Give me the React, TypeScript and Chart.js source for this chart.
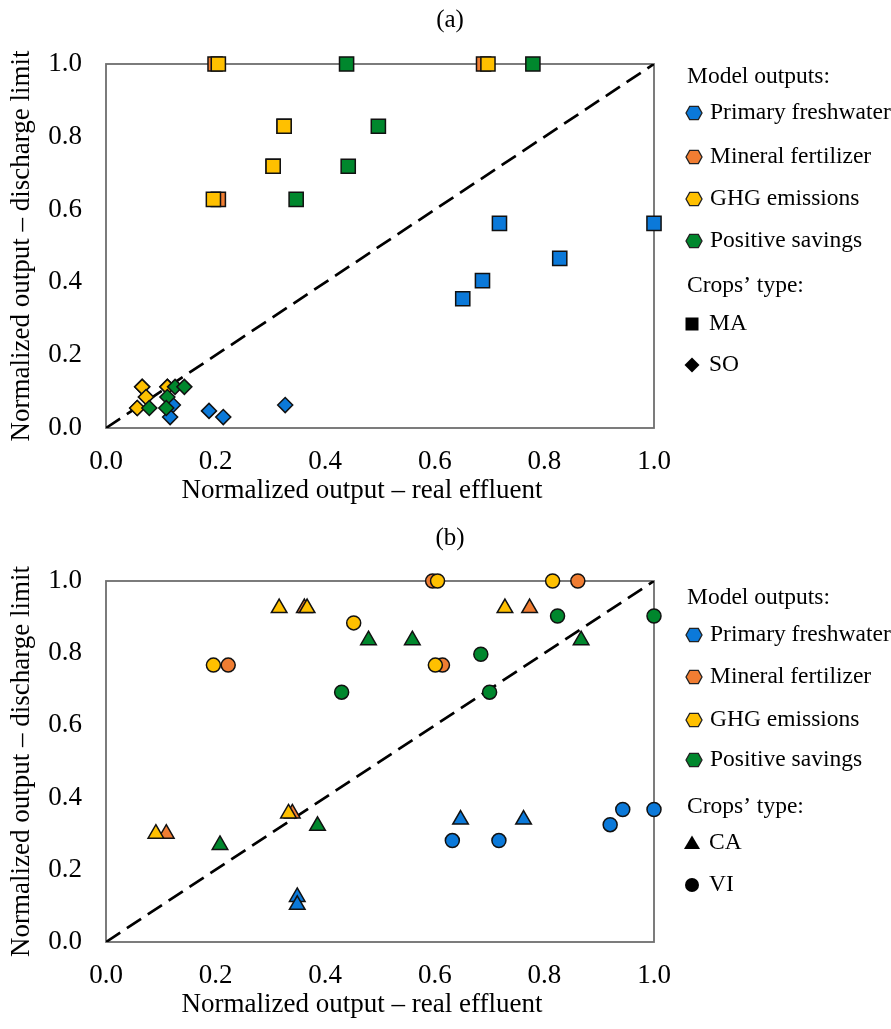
import React, { useEffect, useRef } from "react";
import { Chart, registerables } from "chart.js";

Chart.register(...registerables);

// ---------- text ----------
const X_TITLE = "Normalized output – real effluent";
const Y_TITLE = "Normalized output – discharge limit";
const TICK_LABELS = ["0.0", "0.2", "0.4", "0.6", "0.8", "1.0"];
const OUTPUT_NAMES = ["Primary freshwater", "Mineral fertilizer", "GHG emissions", "Positive savings"];
const OUTPUT_COLORS = ["#0B79D9", "#F07D32", "#FFC000", "#00872D"];
const LEGEND_HEAD_OUTPUTS = "Model outputs:";
const LEGEND_HEAD_CROPS = "Crops’ type:";

// ---------- panel (a) data : [x, y] ----------
const A_CROPS = ["MA", "SO"];
const A_MA_FRESHWATER = [[0.718, 0.562], [1.0, 0.562], [0.828, 0.466], [0.687, 0.405], [0.651, 0.355]];
const A_MA_FERTILIZER = [[0.199, 1.0], [0.689, 1.0], [0.325, 0.829], [0.305, 0.719], [0.205, 0.628]];
const A_MA_GHG = [[0.205, 1.0], [0.697, 1.0], [0.325, 0.829], [0.305, 0.719], [0.196, 0.628]];
const A_MA_SAVINGS = [[0.439, 1.0], [0.779, 1.0], [0.497, 0.829], [0.442, 0.719], [0.347, 0.628]];
const A_SO_FRESHWATER = [[0.122, 0.063], [0.117, 0.030], [0.188, 0.047], [0.214, 0.030], [0.327, 0.063]];
const A_SO_FERTILIZER = [[0.066, 0.113], [0.073, 0.085], [0.057, 0.055], [0.112, 0.113]];
const A_SO_GHG = [[0.066, 0.113], [0.073, 0.085], [0.057, 0.055], [0.112, 0.113]];
const A_SO_SAVINGS = [[0.126, 0.113], [0.143, 0.113], [0.112, 0.085], [0.079, 0.055], [0.110, 0.055]];

// ---------- panel (b) data : [x, y] ----------
const B_CROPS = ["CA", "VI"];
const B_CA_FRESHWATER = [[0.349, 0.125], [0.349, 0.103], [0.647, 0.339], [0.762, 0.339]];
const B_CA_FERTILIZER = [[0.110, 0.300], [0.340, 0.356], [0.362, 0.925], [0.773, 0.925]];
const B_CA_GHG = [[0.091, 0.300], [0.333, 0.356], [0.316, 0.925], [0.367, 0.925], [0.728, 0.925]];
const B_CA_SAVINGS = [[0.208, 0.269], [0.386, 0.322], [0.479, 0.836], [0.559, 0.836], [0.867, 0.836]];
const B_VI_FRESHWATER = [[0.632, 0.281], [0.717, 0.281], [0.920, 0.325], [0.943, 0.367], [1.0, 0.367]];
const B_VI_FERTILIZER = [[0.223, 0.767], [0.596, 1.0], [0.861, 1.0], [0.614, 0.767]];
const B_VI_GHG = [[0.196, 0.767], [0.452, 0.884], [0.605, 1.0], [0.815, 1.0], [0.601, 0.767]];
const B_VI_SAVINGS = [[0.430, 0.692], [0.824, 0.903], [1.0, 0.903], [0.684, 0.797], [0.700, 0.692]];

const DIAGONAL = [[0, 0], [1, 1]];

// ---------- styling ----------
const FONT = "'Liberation Serif', 'Times New Roman', serif";
const AXIS_FONT_SIZE = 27;
const LEGEND_FONT_SIZE = 23.5;
const TITLE_FONT_SIZE = 25;
const FRAME_COLOR = "#6e6e6e";
const W = 891;
const PLOT_LEFT = 106;
const PLOT_RIGHT = 654;

type Pt = number[];
const toXY = (arr: Pt[]) => arr.map(([x, y]) => ({ x, y }));

function markerSet(groups: Pt[][], style: string, radius: number, orderBase: number) {
  // groups ordered freshwater, fertilizer, ghg, savings
  const orderMap = [4, 3, 2, 1];
  return groups.map((g, i) => ({
    label: OUTPUT_NAMES[i],
    data: toXY(g),
    pointStyle: style,
    pointRadius: radius,
    pointHoverRadius: radius,
    backgroundColor: OUTPUT_COLORS[i],
    borderColor: "#111",
    pointBorderWidth: 1.5,
    borderWidth: 1.5,
    showLine: false,
    clip: false,
    order: orderBase + orderMap[i],
  }));
}

function drawShape(ctx: CanvasRenderingContext2D, kind: string, x: number, y: number) {
  ctx.beginPath();
  if (kind === "hex") {
    ctx.moveTo(x - 8, y);
    ctx.lineTo(x - 4.3, y - 6.6);
    ctx.lineTo(x + 4.3, y - 6.6);
    ctx.lineTo(x + 8, y);
    ctx.lineTo(x + 4.3, y + 6.6);
    ctx.lineTo(x - 4.3, y + 6.6);
    ctx.closePath();
  } else if (kind === "rect") {
    ctx.rect(x - 6.5, y - 6.5, 13, 13);
  } else if (kind === "rectRot") {
    ctx.moveTo(x - 7.5, y);
    ctx.lineTo(x, y - 7.5);
    ctx.lineTo(x + 7.5, y);
    ctx.lineTo(x, y + 7.5);
    ctx.closePath();
  } else if (kind === "triangle") {
    ctx.moveTo(x, y - 7.5);
    ctx.lineTo(x + 8, y + 6);
    ctx.lineTo(x - 8, y + 6);
    ctx.closePath();
  } else {
    ctx.arc(x, y, 7, 0, Math.PI * 2);
  }
}

type PanelCfg = {
  top: number;
  height: number;
  plotTop: number;
  plotBottom: number;
  title: string;
  titleY: number;
  legendY: number[];
  crops: string[];
  cropShapes: string[];
  datasets: any[];
};

function makeDecor(cfg: PanelCfg) {
  return {
    id: "decor",
    beforeDatasetsDraw(chart: any) {
      const { ctx, chartArea: a } = chart;
      ctx.save();
      ctx.strokeStyle = FRAME_COLOR;
      ctx.lineWidth = 1.8;
      ctx.strokeRect(a.left, a.top, a.right - a.left, a.bottom - a.top);
      ctx.restore();
    },
    afterDraw(chart: any) {
      const { ctx, chartArea: a } = chart;
      ctx.save();
      ctx.fillStyle = "#000";
      // panel title
      ctx.font = `${TITLE_FONT_SIZE}px ${FONT}`;
      ctx.textAlign = "center";
      ctx.textBaseline = "middle";
      ctx.fillText(cfg.title, 450, cfg.titleY);
      // x axis title
      ctx.font = `${AXIS_FONT_SIZE}px ${FONT}`;
      ctx.fillText(X_TITLE, 362, a.bottom + 63);
      // y axis title
      ctx.save();
      ctx.translate(22, (a.top + a.bottom) / 2);
      ctx.rotate(-Math.PI / 2);
      ctx.fillText(Y_TITLE, 0, 0);
      ctx.restore();
      // legend
      ctx.font = `${LEGEND_FONT_SIZE}px ${FONT}`;
      ctx.textAlign = "left";
      const ly = cfg.legendY;
      ctx.fillText(LEGEND_HEAD_OUTPUTS, 687, ly[0]);
      OUTPUT_NAMES.forEach((name, i) => {
        drawShape(ctx, "hex", 694, ly[1 + i]);
        ctx.fillStyle = OUTPUT_COLORS[i];
        ctx.fill();
        ctx.strokeStyle = "#222";
        ctx.lineWidth = 1.3;
        ctx.stroke();
        ctx.fillStyle = "#000";
        ctx.fillText(name, 710, ly[1 + i]);
      });
      ctx.fillText(LEGEND_HEAD_CROPS, 687, ly[5]);
      cfg.crops.forEach((c, i) => {
        drawShape(ctx, cfg.cropShapes[i], 692, ly[6 + i]);
        ctx.fillStyle = "#000";
        ctx.fill();
        ctx.fillText(c, 709, ly[6 + i]);
      });
      ctx.restore();
    },
  };
}

function Panel({ cfg }: { cfg: PanelCfg }) {
  const ref = useRef<HTMLCanvasElement | null>(null);
  useEffect(() => {
    if (!ref.current) return;
    const tickFont = { family: FONT, size: AXIS_FONT_SIZE };
    const chart = new Chart(ref.current, {
      type: "scatter",
      data: {
        datasets: [
          {
            label: "diagonal",
            data: toXY(DIAGONAL),
            showLine: true,
            borderColor: "#000",
            borderWidth: 2.7,
            borderDash: [17, 8],
            pointRadius: 0,
            pointHoverRadius: 0,
            fill: false,
            order: 50,
          },
          ...cfg.datasets,
        ],
      },
      options: {
        responsive: false,
        animation: false,
        devicePixelRatio: 1,
        events: [],
        layout: { padding: { top: cfg.plotTop, right: W - PLOT_RIGHT, left: 0, bottom: 0 } },
        plugins: { legend: { display: false }, tooltip: { enabled: false }, title: { display: false } },
        scales: {
          x: {
            type: "linear",
            position: "bottom",
            min: 0,
            max: 1,
            afterFit: (s: any) => {
              s.height = cfg.height - cfg.plotBottom;
              s.paddingLeft = 0;
              s.paddingRight = 0;
            },
            grid: { display: false, drawTicks: false },
            border: { display: false },
            ticks: {
              stepSize: 0.2,
              padding: 18,
              color: "#000",
              font: tickFont,
              maxRotation: 0,
              autoSkip: false,
              callback: (v: any) => TICK_LABELS[Math.round(Number(v) * 5)],
            },
          },
          y: {
            type: "linear",
            position: "left",
            min: 0,
            max: 1,
            afterFit: (s: any) => {
              s.width = PLOT_LEFT;
              s.paddingTop = 0;
              s.paddingBottom = 0;
            },
            grid: { display: false, drawTicks: false },
            border: { display: false },
            ticks: {
              stepSize: 0.2,
              padding: 24,
              color: "#000",
              font: tickFont,
              autoSkip: false,
              callback: (v: any) => TICK_LABELS[Math.round(Number(v) * 5)],
            },
          },
        },
      } as any,
      plugins: [makeDecor(cfg)],
    });
    return () => chart.destroy();
  }, [cfg]);
  return (
    <canvas
      ref={ref}
      width={W}
      height={cfg.height}
      style={{ position: "absolute", left: 0, top: cfg.top, width: W, height: cfg.height }}
    />
  );
}

const PANEL_A: PanelCfg = {
  top: 0,
  height: 515,
  plotTop: 64,
  plotBottom: 428,
  title: "(a)",
  titleY: 20,
  legendY: [77, 113, 157, 199, 241, 286, 324, 365],
  crops: A_CROPS,
  cropShapes: ["rect", "rectRot"],
  datasets: [
    ...markerSet([A_MA_FRESHWATER, A_MA_FERTILIZER, A_MA_GHG, A_MA_SAVINGS], "rect", 10, 10),
    ...markerSet([A_SO_FRESHWATER, A_SO_FERTILIZER, A_SO_GHG, A_SO_SAVINGS], "rectRot", 7.5, 0),
  ],
};

const PANEL_B: PanelCfg = {
  top: 515,
  height: 514,
  plotTop: 66,
  plotBottom: 427,
  title: "(b)",
  titleY: 23,
  legendY: [83, 120, 162, 205, 245, 292, 328, 370],
  crops: B_CROPS,
  cropShapes: ["triangle", "circle"],
  datasets: [
    ...markerSet([B_CA_FRESHWATER, B_CA_FERTILIZER, B_CA_GHG, B_CA_SAVINGS], "triangle", 9, 10),
    ...markerSet([B_VI_FRESHWATER, B_VI_FERTILIZER, B_VI_GHG, B_VI_SAVINGS], "circle", 7, 0),
  ],
};

export default function App() {
  return (
    <div style={{ position: "absolute", left: 0, top: 0, width: W, height: 1029, background: "#fff" }}>
      <Panel cfg={PANEL_A} />
      <Panel cfg={PANEL_B} />
    </div>
  );
}
